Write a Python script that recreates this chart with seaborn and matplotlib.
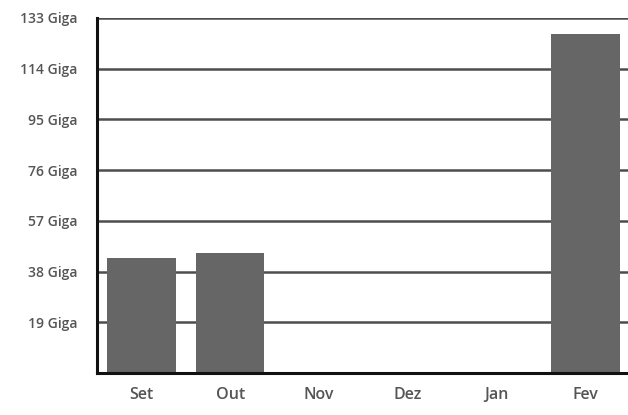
import matplotlib
matplotlib.use("Agg")
import matplotlib.pyplot as plt
import pandas as pd
import seaborn as sns

### Data
months = ["Set", "Out", "Nov", "Dez", "Jan", "Fev"]
usage_giga = [43, 45, 0, 0, 0, 127]
y_ticks = [19, 38, 57, 76, 95, 114, 133]
y_labels = [f"{v} Giga" for v in y_ticks]


def main():
    data = pd.DataFrame({"Mes": months, "Giga": usage_giga})

    sns.set_style("white")
    plt.rcParams["font.family"] = ["Open Sans", "DejaVu Sans"]

    fig = plt.figure(figsize=(6.28, 4.15), dpi=100)
    ax = fig.add_axes([97 / 628, 1 - 373 / 415, 1 - 97 / 628 + 0.01, (373 - 18) / 415])

    sns.barplot(data=data, x="Mes", y="Giga", color="#666666", width=0.77,
                saturation=1, edgecolor="none", linewidth=0, ax=ax, zorder=3)

    ## grid lines
    for v in y_ticks:
        ax.axhline(v, color="#4d4d4d", linewidth=1.8, zorder=1)

    ax.set_ylim(0, 133)
    ax.set_xlim(-0.5, 5.55)
    ax.set_yticks(y_ticks)
    ax.set_yticklabels(y_labels, color="#555555", fontsize=10, fontweight="semibold")
    ax.tick_params(axis="y", length=0, pad=14)
    ax.tick_params(axis="x", length=0, pad=10, labelsize=11.5, labelcolor="#555555")
    for lbl in ax.get_xticklabels():
        lbl.set_fontweight("semibold")
    ax.set_xlabel("")
    ax.set_ylabel("")

    for side in ["top", "right"]:
        ax.spines[side].set_visible(False)
    for side in ["left", "bottom"]:
        ax.spines[side].set_color("#111111")
        ax.spines[side].set_linewidth(2.2)
        ax.spines[side].set_zorder(4)

    fig.savefig("out.png", dpi=100, facecolor="white")


if __name__ == '__main__':
    main()
